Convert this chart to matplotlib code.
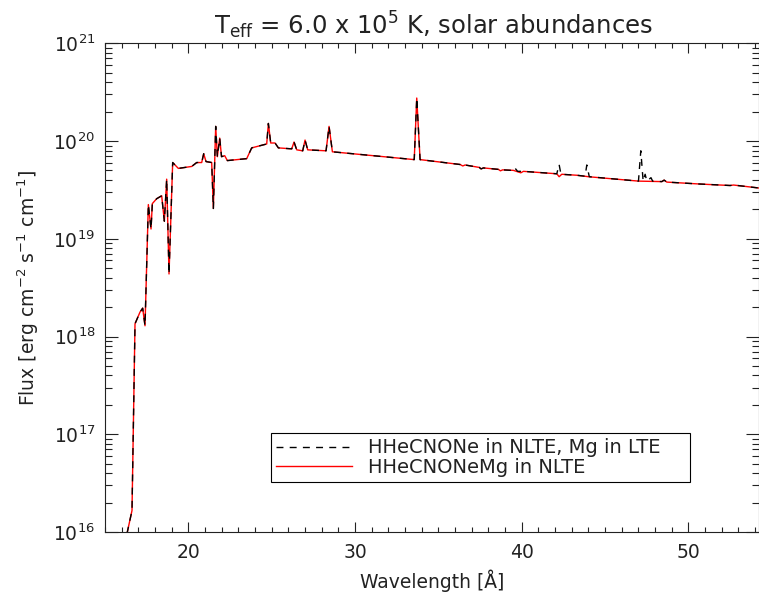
import numpy as np
import matplotlib
matplotlib.use('Agg')
import matplotlib.pyplot as plt
from matplotlib.ticker import MultipleLocator, LogLocator

# Wavelength [A] and log10 flux
# HHeCNONeMg in NLTE (red, solid)
wave_nlte = [16.20, 16.34, 16.62, 16.80, 16.90, 17.10, 17.26, 17.40, 17.60, 17.76,
             17.84, 18.10, 18.40, 18.56, 18.70, 18.84, 19.06, 19.40, 19.80, 20.20,
             20.50, 20.80, 20.92, 21.06, 21.40, 21.50, 21.64, 21.74, 21.88, 21.99,
             22.18, 22.34, 23.50, 23.80, 24.70, 24.80, 24.94, 25.20, 25.40, 26.20,
             26.34, 26.50, 26.86, 27.00, 27.16, 28.26, 28.44, 28.64, 33.55, 33.70,
             33.90, 36.30, 36.46, 36.60, 37.45, 37.56, 37.70, 38.60, 38.72, 38.85,
             39.50, 39.94, 40.10, 42.10, 42.24, 42.40, 43.30, 44.00, 47.00, 48.40,
             48.54, 48.70, 50.70, 52.50, 52.70, 54.20]
logf_nlte = [15.85, 16.00, 16.22, 18.13, 18.17, 18.25, 18.29, 18.11, 19.35, 19.10,
             19.36, 19.41, 19.44, 19.18, 19.61, 18.64, 19.78, 19.72, 19.73, 19.74,
             19.78, 19.78, 19.87, 19.79, 19.78, 19.31, 20.15, 19.84, 20.03, 19.84,
             19.85, 19.80, 19.82, 19.93, 19.97, 20.18, 19.98, 19.98, 19.93, 19.92,
             19.99, 19.91, 19.90, 20.01, 19.91, 19.90, 20.15, 19.89, 19.81, 20.44,
             19.81, 19.76, 19.745, 19.755, 19.73, 19.715, 19.725, 19.71, 19.695, 19.705,
             19.70, 19.675, 19.69, 19.665, 19.635, 19.66, 19.65, 19.635, 19.59, 19.585,
             19.60, 19.58, 19.56, 19.545, 19.55, 19.52]

# HHeCNONe in NLTE, Mg in LTE (black, dashed)
wave_lte = [16.20, 16.34, 16.62, 16.80, 16.90, 17.10, 17.26, 17.40, 17.60, 17.76,
            17.84, 18.10, 18.40, 18.56, 18.70, 18.84, 19.06, 19.40, 19.80, 20.20,
            20.50, 20.80, 20.92, 21.06, 21.40, 21.50, 21.64, 21.74, 21.88, 21.99,
            22.18, 22.34, 23.50, 23.80, 24.70, 24.80, 24.94, 25.20, 25.40, 26.20,
            26.34, 26.50, 26.86, 27.00, 27.16, 28.26, 28.44, 28.64, 33.55, 33.70,
            33.90, 36.30, 36.46, 36.60, 37.45, 37.56, 37.70, 38.60, 38.72, 38.85,
            39.40, 39.56, 39.75, 40.10, 42.10, 42.24, 42.35, 43.30, 43.80, 43.90,
            44.05, 47.00, 47.14, 47.28, 47.40, 47.50, 47.75, 47.85, 48.40, 48.54,
            48.70, 50.70, 52.50, 52.70, 54.20]
logf_lte = [15.85, 16.00, 16.22, 18.13, 18.17, 18.25, 18.29, 18.11, 19.35, 19.10,
            19.36, 19.41, 19.44, 19.18, 19.61, 18.64, 19.78, 19.72, 19.73, 19.74,
            19.78, 19.78, 19.87, 19.79, 19.78, 19.31, 20.15, 19.84, 20.03, 19.84,
            19.85, 19.80, 19.82, 19.93, 19.97, 20.18, 19.98, 19.98, 19.93, 19.92,
            19.99, 19.91, 19.90, 20.01, 19.91, 19.90, 20.15, 19.89, 19.81, 20.44,
            19.81, 19.76, 19.745, 19.755, 19.73, 19.715, 19.725, 19.71, 19.695, 19.705,
            19.70, 19.73, 19.69, 19.69, 19.665, 19.76, 19.66, 19.65, 19.64, 19.755,
            19.635, 19.59, 19.90, 19.59, 19.66, 19.59, 19.625, 19.59, 19.585, 19.60,
            19.58, 19.56, 19.545, 19.55, 19.52]

title = r'T$_{\rm eff}$ = 6.0 x 10$^5$ K, solar abundances'
label_lte = 'HHeCNONe in NLTE, Mg in LTE'
label_nlte = 'HHeCNONeMg in NLTE'

W, H = 759, 597
fig = plt.figure(figsize=(W / 100, H / 100), dpi=100)
ax = fig.add_axes([105 / W, 1 - 532 / H, (758.5 - 105) / W, (532 - 43.3) / H])

flux_nlte = 10 ** np.array(logf_nlte)
flux_lte = 10 ** np.array(logf_lte)

ax.plot(wave_nlte, flux_nlte, color='red', lw=1.0, label=label_nlte, zorder=2)
ax.plot(wave_lte, flux_lte, color='black', lw=1.0, dashes=(5, 4.5),
        label=label_lte, zorder=3)

ax.set_yscale('log')
ax.set_xlim(15, 54.2)
ax.set_ylim(1e16, 1e21)

ax.xaxis.set_major_locator(MultipleLocator(10))
ax.xaxis.set_minor_locator(MultipleLocator(1))
ax.yaxis.set_major_locator(LogLocator(base=10, numticks=10))
ax.yaxis.set_minor_locator(LogLocator(base=10, subs=np.arange(2, 10), numticks=10))

ax.tick_params(which='both', direction='in', top=True, right=True,
               labelsize=13.5, width=0.8, colors='#222222')
ax.tick_params(axis='x', which='major', length=7.2, pad=8)
ax.tick_params(axis='x', which='minor', length=3.6)
ax.tick_params(axis='y', which='major', length=9.4, pad=7)
ax.tick_params(axis='y', which='minor', length=4.7)
for s in ax.spines.values():
    s.set_linewidth(0.8)
    s.set_color('#222222')

ax.set_xlabel('Wavelength [Å]', fontsize=13.5, labelpad=5, color='#222222')
ax.set_ylabel(r'Flux [erg cm$^{-2}$ s$^{-1}$ cm$^{-1}$]', fontsize=13.5,
              labelpad=9, color='#222222')

fig.text(433 / W, 1 - 34 / H, title, ha='center', va='baseline', fontsize=17.5,
         color='#222222')

h, l = ax.get_legend_handles_labels()
leg = ax.legend(h[::-1], l[::-1], loc='lower left',
                bbox_to_anchor=(0.254, 0.102, 0.641, 0.10), mode='expand',
                borderaxespad=0, fontsize=14, handlelength=3.9, handletextpad=0.85,
                labelspacing=0.05, borderpad=0.25, fancybox=False, framealpha=1)
leg.get_frame().set_edgecolor('black')
leg.get_frame().set_linewidth(0.8)
for t in leg.get_texts():
    t.set_color('#222222')

fig.savefig('out.png', dpi=100)
